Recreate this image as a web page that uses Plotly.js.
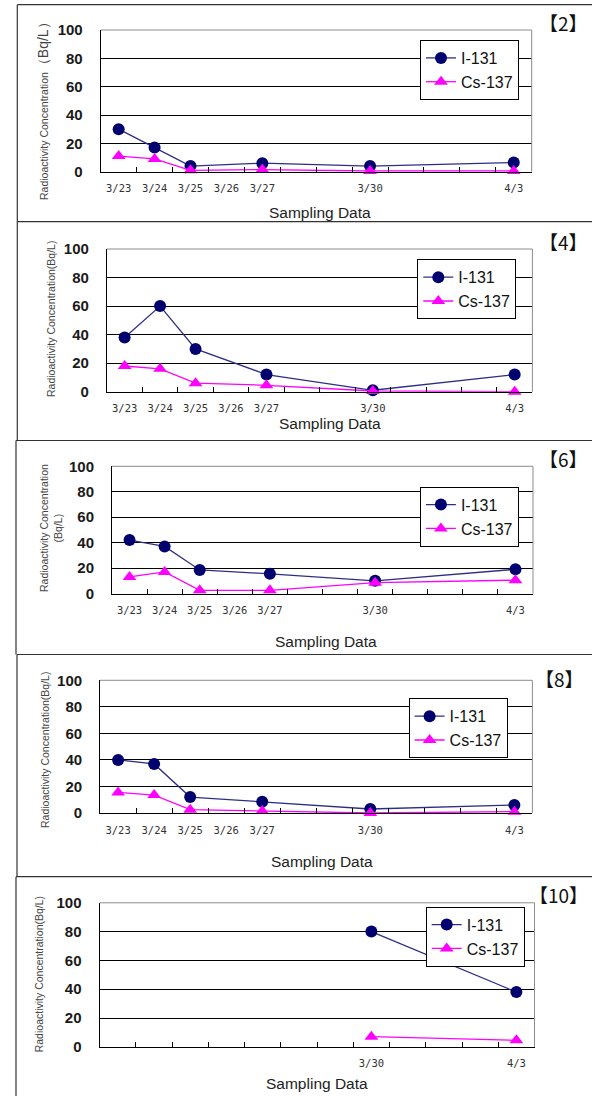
<!DOCTYPE html>
<html>
<head>
<meta charset="utf-8">
<script src="https://cdn.plot.ly/plotly-3.0.1.min.js"></script>
<style>html,body{margin:0;padding:0;background:#fff;}#chart{width:592px;height:1096px;}</style>
</head>
<body>
<div id="chart"></div>
<script>
// ---- data ----
const categories = ['3/23','3/24','3/25','3/26','3/27','3/28','3/29','3/30','3/31','4/1','4/2','4/3'];
const seriesNames = ['I-131','Cs-137'];
const yTicks = [0,20,40,60,80,100];
const xTitle = 'Sampling Data';
const yTitle = 'Radioactivity Concentration';
const yUnit = '(Bq/L)';
const panelTags = ['【2】','【4】','【6】','【8】','【10】'];

// Panel 【2】
const dates2 = ['3/23','3/24','3/25','3/27','3/30','4/3'];
const i131_2 = [30, 17, 4, 6, 4, 6.5];
const cs137_2 = [11, 9, 1, 1.5, 0.5, 0.5];
const labels2 = ['3/23','3/24','3/25','3/26','3/27','3/30','4/3'];
// Panel 【4】
const dates4 = ['3/23','3/24','3/25','3/27','3/30','4/3'];
const i131_4 = [38, 60, 30, 12, 1, 12];
const cs137_4 = [18, 16, 6, 4.5, 0.5, 0];
const labels4 = ['3/23','3/24','3/25','3/26','3/27','3/30','4/3'];
// Panel 【6】
const dates6 = ['3/23','3/24','3/25','3/27','3/30','4/3'];
const i131_6 = [42, 37, 18.5, 15.5, 10, 19];
const cs137_6 = [13, 17, 2.5, 2.5, 8.5, 10.5];
const labels6 = ['3/23','3/24','3/25','3/26','3/27','3/30','4/3'];
// Panel 【8】
const dates8 = ['3/23','3/24','3/25','3/27','3/30','4/3'];
const i131_8 = [40, 37, 12, 8.5, 3, 6];
const cs137_8 = [15.5, 13.5, 2.5, 1.5, 0, 1];
const labels8 = ['3/23','3/24','3/25','3/26','3/27','3/30','4/3'];
// Panel 【10】
const dates10 = ['3/30','4/3'];
const i131_10 = [80, 38];
const cs137_10 = [7, 4.5];
const labels10 = ['3/30','4/3'];

// ---- layout geometry (pixels) ----
const W = 592, H = 1096;
const px = v => v / W;
const py = v => 1 - v / H;

const panels = [
  {dates:dates2, i:i131_2, cs:cs137_2, labels:labels2, tag:panelTags[0],
   plot:[100.7,531.7,30,171.7], legend:[420,40], tagPos:[590,22],
   ytitle:{x:43,y:107,text:yTitle+'<span style="font-size:14px">（Bq/L）</span>'},
   xtitle:[320,212.3], border:[17.3,4.7,221.7]},
  {dates:dates4, i:i131_4, cs:cs137_4, labels:labels4, tag:panelTags[1],
   plot:[106.9,532.4,249,391.7], legend:[417.3,259.3], tagPos:[590,241],
   ytitle:{x:51,y:319,text:yTitle+yUnit},
   xtitle:[330,423.3], border:[17.3,221.7,440.5]},
  {dates:dates6, i:i131_6, cs:cs137_6, labels:labels6, tag:panelTags[2],
   plot:[112,533,466.3,593.5], legend:[419.9,486.7], tagPos:[590,459],
   ytitle:{x:50.5,y:528.5,text:yTitle+'<br>'+yUnit},
   xtitle:[325.7,641.7], border:[16,440.5,654.5]},
  {dates:dates8, i:i131_8, cs:cs137_8, labels:labels8, tag:panelTags[3],
   plot:[100.1,532.4,680.3,813], legend:[408.6,698.3], tagPos:[586,678],
   ytitle:{x:45,y:750,text:yTitle+yUnit},
   xtitle:[322,861], border:[17,654.5,876.7]},
  {dates:dates10, i:i131_10, cs:cs137_10, labels:labels10, tag:panelTags[4],
   plot:[99.5,534.5,902.8,1046.8], legend:[425.7,906.7], tagPos:[590,894],
   ytitle:{x:39.3,y:974,text:yTitle+yUnit},
   xtitle:[316.7,1083], border:[16,876.7,1096]}
];

const traces = [];
const layout = {
  width: W, height: H, autosize: false,
  margin: {l:0, r:0, t:0, b:0},
  paper_bgcolor: '#fff', plot_bgcolor: '#fff',
  showlegend: true,
  font: {family: 'Liberation Sans, Arial, sans-serif', color: '#222'},
  shapes: [], annotations: []
};

panels.forEach((p, k) => {
  const n = k + 1;
  const xa = n === 1 ? 'x' : 'x' + n;
  const ya = n === 1 ? 'y' : 'y' + n;
  const lg = n === 1 ? 'legend' : 'legend' + n;
  const xKey = n === 1 ? 'xaxis' : 'xaxis' + n;
  const yKey = n === 1 ? 'yaxis' : 'yaxis' + n;

  traces.push({
    type: 'scatter', mode: 'lines+markers', name: seriesNames[0],
    x: p.dates, y: p.i, xaxis: xa, yaxis: ya, legend: lg, cliponaxis: false,
    line: {color: '#2E2E86', width: 1.3},
    marker: {symbol: 'circle', size: 12, color: '#00006E'}
  });
  traces.push({
    type: 'scatter', mode: 'lines+markers', name: seriesNames[1],
    x: p.dates, y: p.cs, xaxis: xa, yaxis: ya, legend: lg, cliponaxis: false,
    line: {color: '#FF00FF', width: 1.3},
    marker: {symbol: 'triangle-up', size: 12, color: '#FF00FF'}
  });

  const [l, r, t, b] = p.plot;
  layout[xKey] = {
    domain: [px(l), px(r)], anchor: ya,
    type: 'category', categoryorder: 'array', categoryarray: categories,
    range: [-0.5, categories.length - 0.5],
    tickmode: 'array', tickvals: categories,
    ticktext: categories.map(c => p.labels.includes(c) ? c : ''),
    tickson: 'boundaries', ticks: 'inside', ticklen: 5, tickcolor: '#000', tickwidth: 1,
    ticklabelstandoff: 7,
    tickfont: {family: 'DejaVu Sans Mono, monospace', size: 10.5, color: '#333'},
    showgrid: false, zeroline: false,
    showline: true, linecolor: '#000', linewidth: 1,
    fixedrange: true
  };
  layout[yKey] = {
    domain: [py(b), py(t)], anchor: xa,
    range: [0, 100], tickmode: 'array', tickvals: yTicks,
    ticks: '', ticklabelstandoff: 14,
    tickfont: {family: 'Liberation Sans, Arial, sans-serif', size: 15, color: '#1a1a1a', weight: 'bold'},
    showgrid: true, gridcolor: '#000', gridwidth: 1, zeroline: false,
    showline: true, linecolor: '#000', linewidth: 1,
    fixedrange: true
  };
  layout[lg] = {
    x: px(p.legend[0]), y: py(p.legend[1]), xanchor: 'left', yanchor: 'top',
    xref: 'paper', yref: 'paper',
    bgcolor: '#fff', bordercolor: '#000', borderwidth: 1,
    font: {family: 'Liberation Sans, Arial, sans-serif', size: 16, color: '#111'},
    tracegroupgap: 0, itemwidth: 30
  };

  // plot frame: top and right in grey
  layout.shapes.push({type:'line', xref: xa + ' domain', yref: ya + ' domain',
    x0: 0, x1: 1, y0: 1, y1: 1, line: {color: '#8c8c8c', width: 1}, layer: 'above'});
  layout.shapes.push({type:'line', xref: xa + ' domain', yref: ya + ' domain',
    x0: 1, x1: 1, y0: 0, y1: 1, line: {color: '#8c8c8c', width: 1}, layer: 'above'});

  // panel border
  const [bl, bt, bb] = p.border;
  layout.shapes.push({type:'line', xref:'paper', yref:'paper',
    x0: px(bl), x1: 1, y0: py(bt), y1: py(bt), line: {color: '#333', width: 1.2}});
  layout.shapes.push({type:'line', xref:'paper', yref:'paper',
    x0: px(bl), x1: px(bl), y0: py(bt), y1: py(bb), line: {color: '#333', width: 1.2}});

  // panel tag
  layout.annotations.push({xref:'paper', yref:'paper', x: px(p.tagPos[0]), y: py(p.tagPos[1]),
    xanchor:'right', yanchor:'middle', showarrow:false, text: p.tag,
    font: {family: 'Noto Sans CJK JP, sans-serif', size: 19, color: '#111'}});
  // y title
  layout.annotations.push({xref:'paper', yref:'paper', x: px(p.ytitle.x), y: py(p.ytitle.y),
    xanchor:'center', yanchor:'middle', showarrow:false, textangle: -90, text: p.ytitle.text,
    font: {family: 'Liberation Sans, Arial, sans-serif', size: 10.5, color: '#444'}});
  // x title
  layout.annotations.push({xref:'paper', yref:'paper', x: px(p.xtitle[0]), y: py(p.xtitle[1]),
    xanchor:'center', yanchor:'middle', showarrow:false, text: xTitle,
    font: {family: 'Liberation Sans, Arial, sans-serif', size: 15.5, color: '#222'}});
});

Plotly.newPlot('chart', traces, layout, {staticPlot: true, displayModeBar: false});
</script>
</body>
</html>
